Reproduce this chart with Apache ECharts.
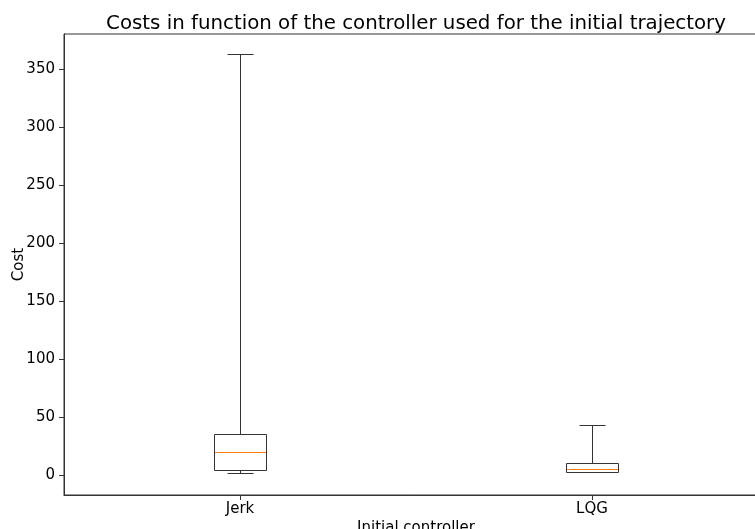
<!DOCTYPE html>
<html><head><meta charset="utf-8">
<script src="https://cdn.jsdelivr.net/npm/echarts@6/dist/echarts.min.js"></script>
<style>html,body{margin:0;padding:0;background:#fff}#c{width:755px;height:529px}</style>
</head><body><div id="c"></div>
<script>
const categories = ['Jerk', 'LQG'];
const whiskerLow = [1.1, 1.8];
const q1 = [3.7, 2.6];
const median = [19.8, 4.8];
const q3 = [35.3, 10.3];
const whiskerHigh = [362.6, 42.5];

const FONT = 'DejaVu Sans';
const chart = echarts.init(document.getElementById('c'), null, {renderer: 'canvas'});
const data = categories.map((c, i) => [i, whiskerLow[i], q1[i], median[i], q3[i], whiskerHigh[i]]);

function px(v) { return Math.round(v - 0.5) + 0.5; }

chart.setOption({
  animation: false,
  backgroundColor: '#fff',
  title: {
    text: 'Costs in function of the controller used for the initial trajectory',
    left: 411, top: 9, textAlign: 'center',
    textStyle: {fontFamily: FONT, fontSize: 19.8, fontWeight: 'normal', color: '#000'}
  },
  grid: {left: 64, top: 34, width: 704, height: 461, show: true, borderColor: '#333', borderWidth: 1,
         backgroundColor: 'transparent', containLabel: false, outerBoundsMode: 'none'},
  xAxis: {
    type: 'category', data: categories, boundaryGap: true,
    name: 'Initial controller', nameLocation: 'middle', nameGap: 26, nameMoveOverlap: false,
    nameTextStyle: {fontFamily: FONT, fontSize: 15, color: '#000', verticalAlign: 'top'},
    axisLine: {show: true, onZero: false, lineStyle: {color: '#333', width: 1}},
    axisTick: {show: true, alignWithLabel: true, length: 5, lineStyle: {color: '#333'}},
    axisLabel: {fontFamily: FONT, fontSize: 15, color: '#000', margin: 7},
    splitLine: {show: false}
  },
  yAxis: {
    type: 'value', min: -17.2, max: 380.2, splitNumber: 8,
    name: 'Cost', nameLocation: 'middle', nameGap: 37, nameRotate: 90, nameMoveOverlap: false,
    nameTextStyle: {fontFamily: FONT, fontSize: 15, color: '#000'},
    axisLine: {show: true, onZero: false, lineStyle: {color: '#333', width: 1}},
    axisTick: {show: true, length: 5, lineStyle: {color: '#333'}},
    axisLabel: {fontFamily: FONT, fontSize: 15, color: '#000', margin: 9, showMinLabel: false, showMaxLabel: false},
    splitLine: {show: false}
  },
  series: [{
    type: 'custom',
    data: data,
    clip: false,
    encode: {x: 0, y: [1, 2, 3, 4, 5]},
    renderItem: function (params, api) {
      const x = api.value(0);
      const pLow = api.coord([x, api.value(1)]);
      const pQ1 = api.coord([x, api.value(2)]);
      const pMed = api.coord([x, api.value(3)]);
      const pQ3 = api.coord([x, api.value(4)]);
      const pHigh = api.coord([x, api.value(5)]);
      const band = api.size([1, 0])[0];
      const bw = band * 0.15;
      const cw = bw / 2;
      const cx = px(pQ1[0]);
      const yLow = px(pLow[1]), yQ1 = px(pQ1[1]), yMed = px(pMed[1]), yQ3 = px(pQ3[1]), yHigh = px(pHigh[1]);
      const l = px(cx - bw / 2), r = px(cx + bw / 2);
      const ls = {stroke: '#333', lineWidth: 1, fill: null};
      return {
        type: 'group',
        children: [
          {type: 'line', shape: {x1: cx, y1: yQ3, x2: cx, y2: yHigh}, style: ls},
          {type: 'line', shape: {x1: cx, y1: yQ1, x2: cx, y2: yLow}, style: ls},
          {type: 'line', shape: {x1: px(cx - cw / 2), y1: yHigh, x2: px(cx + cw / 2), y2: yHigh}, style: ls},
          {type: 'line', shape: {x1: px(cx - cw / 2), y1: yLow, x2: px(cx + cw / 2), y2: yLow}, style: ls},
          {type: 'rect', shape: {x: l, y: yQ3, width: r - l, height: yQ1 - yQ3}, style: {stroke: '#333', lineWidth: 1, fill: 'transparent'}},
          {type: 'line', shape: {x1: l + 0.5, y1: yMed, x2: r - 0.5, y2: yMed}, style: {stroke: '#ff7f0e', lineWidth: 1}}
        ]
      };
    }
  }]
});
</script></body></html>
